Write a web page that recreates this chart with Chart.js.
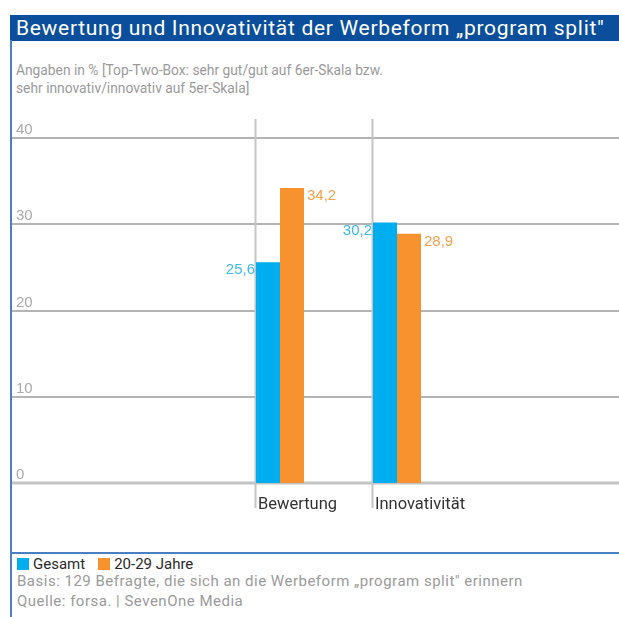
<!DOCTYPE html>
<html>
<head>
<meta charset="utf-8">
<script src="https://cdn.jsdelivr.net/npm/chart.js@4"></script>
<style>
  body { margin: 0; background: #fff; width: 619px; height: 617px; overflow: hidden; position: relative; font-family: Roboto, sans-serif; }
  #frame { position: absolute; left: 10px; top: 40px; width: 2px; height: 577px; background: #4a7fc1; }
  #title { position: absolute; left: 10px; top: 15px; width: 609px; height: 26px; background: #0b4f9c; color: #fff;
           font-size: 21px; letter-spacing: 0.7px; line-height: 26px; padding-left: 6px; box-sizing: border-box; white-space: nowrap; }
  #sub { position: absolute; left: 16px; top: 61px; color: #9a9a9a; font-size: 13.8px; line-height: 18px; }
  #rule { position: absolute; left: 10px; top: 552px; width: 609px; height: 2px; background: #4a7fc1; }
  #legend { position: absolute; left: 17px; top: 555px; font-size: 15px; color: #2a2a2a; line-height: 18px; white-space: nowrap; }
  #legend span.sw { display: inline-block; width: 12px; height: 12px; margin-right: 4px; vertical-align: -1px; }
  #legend span.item { margin-right: 13px; }
  #foot { position: absolute; left: 17px; top: 571px; color: #9a9a9a; font-size: 15px; letter-spacing: 0.5px; line-height: 20px; white-space: nowrap; }
  #wrap { position: absolute; left: 12px; top: 100px; width: 607px; height: 420px; }
</style>
</head>
<body>
<div id="title">Bewertung und Innovativität der Werbeform „program split"</div>
<div id="frame"></div>
<div id="sub">Angaben in % [Top-Two-Box: sehr gut/gut auf 6er-Skala bzw.<br>sehr innovativ/innovativ auf 5er-Skala]</div>
<div id="wrap"><canvas id="myChart" width="607" height="420"></canvas></div>
<div id="rule"></div>
<div id="legend"></div>
<div id="foot">Basis: 129 Befragte, die sich an die Werbeform „program split" erinnern<br>Quelle: forsa. | SevenOne Media</div>
<script>
const categories = ['Bewertung', 'Innovativität'];
const seriesNames = ['Gesamt', '20-29 Jahre'];
const gesamt = [25.6, 30.2];
const jahre2029 = [34.2, 28.9];
const yTicks = [0, 10, 20, 30, 40];

const barColors = ['#00aeef', '#f7922f'];
const labelColors = ['#3cb9ec', '#f7a04c'];

// legend in html, below the blue rule
const legendEl = document.getElementById('legend');
seriesNames.forEach((name, i) => {
    legendEl.innerHTML += '<span class="item"><span class="sw" style="background:' + barColors[i] + '"></span>' + name + '</span>';
});

const fmt = v => v.toFixed(1).replace('.', ',');

// full width grid lines, category marker lines and value labels
const decor = {
    id: 'decor',
    beforeDatasetsDraw(chart) {
        const c = chart.ctx;
        const y = chart.scales.y;
        c.save();
        yTicks.forEach(t => {
            const py = Math.round(y.getPixelForValue(t));
            c.strokeStyle = t === 0 ? '#c4c4c4' : '#b4b4b4';
            c.lineWidth = t === 0 ? 3 : 2;
            c.beginPath();
            c.moveTo(0, py);
            c.lineTo(chart.width, py);
            c.stroke();
        });
        const meta = chart.getDatasetMeta(0);
        meta.data.forEach(bar => {
            const px = Math.round(bar.x - bar.width / 2) - 0.5;
            c.strokeStyle = '#c4c4c4';
            c.lineWidth = 2;
            c.beginPath();
            c.moveTo(px, y.getPixelForValue(42.2));
            c.lineTo(px, y.getPixelForValue(0) + 25);
            c.stroke();
        });
        c.restore();
    },
    afterDatasetsDraw(chart) {
        const c = chart.ctx;
        c.save();
        c.font = '15px "Liberation Sans", Arial, sans-serif';
        c.textBaseline = 'middle';
        chart.data.datasets.forEach((ds, i) => {
            chart.getDatasetMeta(i).data.forEach((bar, j) => {
                c.fillStyle = labelColors[i];
                if (i === 0) {
                    c.textAlign = 'right';
                    c.fillText(fmt(ds.data[j]), bar.x - bar.width / 2 - 1, bar.y + 8);
                } else {
                    c.textAlign = 'left';
                    c.fillText(fmt(ds.data[j]), bar.x + bar.width / 2 + 3, bar.y + 8);
                }
            });
        });
        c.restore();
    }
};

const ctx = document.getElementById('myChart').getContext('2d');
const chart = new Chart(ctx, {
    type: 'bar',
    data: {
        labels: categories,
        datasets: [{
            label: seriesNames[0],
            data: gesamt,
            backgroundColor: barColors[0]
        }, {
            label: seriesNames[1],
            data: jahre2029,
            backgroundColor: barColors[1]
        }]
    },
    options: {
        responsive: false,
        animation: false,
        layout: { padding: { top: 38, left: 4, right: 163.5, bottom: 0 } },
        plugins: { legend: { display: false }, tooltip: { enabled: false } },
        datasets: { bar: { barPercentage: 1, categoryPercentage: 48 / 117 } },
        scales: {
            x: {
                grid: { display: false },
                border: { display: false },
                ticks: {
                    align: 'start',
                    labelOffset: -22,
                    padding: 4,
                    color: '#333',
                    font: { family: 'Roboto', size: 16.5 }
                },
                afterFit(scale) { scale.height = 37; }
            },
            y: {
                min: 0,
                max: 40,
                afterBuildTicks(scale) { scale.ticks = yTicks.map(v => ({ value: v })); },
                grid: { display: false },
                border: { display: false },
                ticks: {
                    crossAlign: 'far',
                    labelOffset: -8,
                    color: '#aaaaaa',
                    font: { family: 'Liberation Sans', size: 15 }
                },
                afterFit(scale) { scale.width = 205.5; }
            }
        }
    },
    plugins: [decor]
});
</script>
</body>
</html>
